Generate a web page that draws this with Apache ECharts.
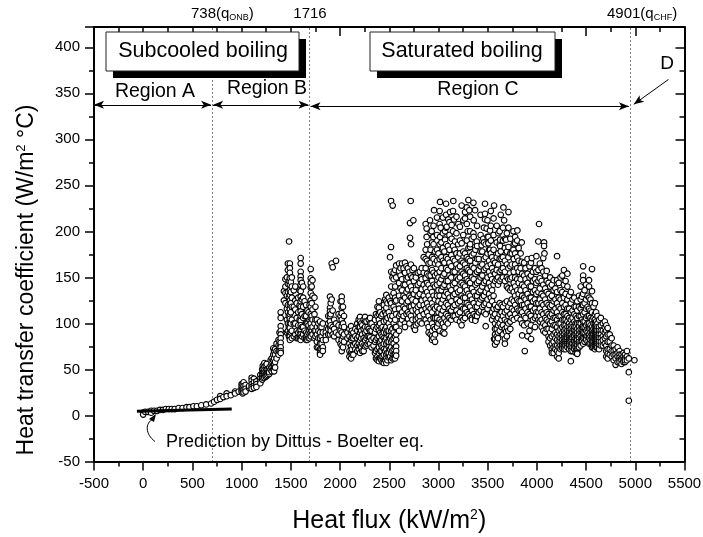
<!DOCTYPE html>
<html><head><meta charset="utf-8">
<script src="https://cdn.jsdelivr.net/npm/echarts@6/dist/echarts.min.js"></script>
<style>html,body{margin:0;padding:0;background:#fff}#c{width:703px;height:537px}</style>
</head><body><div id="c"></div>
<script>
// Each row: [heat flux, htc, htc, ...]
const subcooledLow = [[0,3,1],[20,4],[50,4],[80,5,3],[110,5],[140,5],[170,6],[200,6],[230,7],[260,7],[290,7],[320,7],[360,8],[400,8],[440,9],[470,9],[510,10],[545,10],[590,11],[640,12],[690,13],[720,15],[750,17],[782,21,18],[815,20],[848,24,21],[890,22],[933,26,24],[970,26]];
const subcooledRamp = [[1000,34,31,28,26],[1011,34,30,27,24],[1020,36,32,28,25],[1040,33,29,26],[1075,30,32],[1102,41,38,34,31,29],[1125,40,36,32,30],[1150,37,34,31],[1190,44,40,37,35],[1210,50,46,42,39],[1215,54,50,46,44,41],[1231,57,53,49,46,43,41],[1245,54,48,44,42],[1255,56,50,46,43],[1265,50,46,44],[1280,52,48,45,47],[1295,60,54,50],[1306,62,56,52,48],[1322,73,66,60,55,50],[1330,70,62,56,52,48],[1340,72,66,58,52],[1355,78,70,62],[1375,82,76,70,66],[1385,90,80,74,70],[1397,112,106,97,92,88,84,79,74,70,68]];
const boilingB = [[1430,135,125],[1445,148,140,133,122],[1460,150,130,116,104,90],[1470,165,158,143,134,120,112,100,92],[1480,146,128,108,96,86],[1482,189],[1490,165,160,155,149,142,136,131,125,120,115,110,105,100,95,90,86,82],[1500,145,134,122,112,100,90],[1510,150,140,128,118,104,92,84],[1530,136,118,100,86],[1545,140,125,115,100,88],[1560,122,106,92,84],[1575,128,112,98,90,84],[1590,136,120,104,92,84],[1600,171,165,156,151,147,142,135,129,124,118,113,108,103,98,93,88,84,82],[1612,144,126,110,96,86],[1625,140,128,118,106,96,88],[1640,124,108,92,84],[1655,120,108,100,90,84,82],[1668,114,100,88,82],[1680,112,98,90,84],[1690,120,104,92,84]];
const boilingMid = [[1702,159,149,144,139,133,125,118,110,106,100,95,90,86],[1712,140,122,108,92],[1720,147,130,115,104,96,88],[1740,128,110,100,92,84],[1750,118,104,92,86],[1765,104,96,88,80,74],[1780,100,92,84,74],[1797,102,96,90,84,78,72,68,66],[1812,96,86,78,72],[1825,100,90,82,74,70],[1855,90,86,82],[1880,108,100,94,88],[1898,129,117,113,108,102,96,88],[1905,122,110,98,92],[1915,165,126],[1925,161,114,96,88],[1940,104,94,86],[1959,168,100,90],[1985,110,98,88,82],[2005,124,108,92,78],[2017,129,124,117,111,104,97,90,82,76,70],[2030,118,100,86,74],[2040,108,96,88,80],[2075,90,84],[2095,94,86,78,70,64],[2112,97,90,82,75,68,62],[2120,92,84,72,66],[2135,90,84,76,66],[2155,94,86,78,72],[2175,100,92,84,76,70],[2190,104,96,86,78,72],[2203,107,102,96,90,82,75,68],[2215,100,92,84,74],[2225,98,88,78,70],[2240,104,94,84,76,70],[2254,107,102,96,90,82,75],[2268,102,92,84,76],[2280,96,86,78],[2292,104,94,86,80],[2305,106,100,92,85,78],[2320,100,92,82,74],[2340,96,84,76],[2355,104,90,80,68],[2365,110,94,82,70,62],[2380,118,108,96,84,72,64,60]];
const saturatedLeft = [[2395,124,117,110,104,98,92,86,80,74,68,62,59],[2408,112,100,90,80,70,62],[2420,108,95,88,82,76,70,64,60],[2432,110,96,86,74,64,58],[2445,120,102,90,84,78,72,66,60,57],[2458,126,112,94,82,70,60],[2470,131,124,117,110,103,96,90,84,78,72,66,62,57],[2482,122,106,92,80,68,60],[2495,128,112,100,92,86,80,74,68,63],[2508,172,124,108,96,84,72,64],[2518,233,183],[2520,156,140,122,104,92,86,80,74,68,60],[2532,150,130,108,94,82,70,62],[2535,228],[2545,155,148,133,118,100,90,84,78,72,66,62],[2558,124,96,86,74,66,62],[2560,158,140,128,115,104],[2570,163,150,125,110,96,88,82,75,70,65],[2600,165,157,144,130,116,108,92],[2615,160,152,138,125,110,100],[2630,165,148,136,124,112,104],[2645,160,142,130,118,108],[2660,166,155,142,128,116,100,96],[2675,162,148,134,122,110],[2690,160,150,137,124,112,105],[2705,156,144,130,118,110,100],[2711,209,193],[2718,233],[2721,186],[2720,164,152,140,128,118,108],[2735,158,150,136,126,114,104],[2745,212],[2750,160,146,132,120,96],[2762,93],[2770,150,136,124,115,104,98],[2790,155,142,130,118,112,106,100],[2810,156,144,132,120,108,102],[2830,160,148,137,125,114,100],[2850,172,155,142,130,120,110],[2870,208,180,170,160,149,138,126,116,104],[2880,203,194],[2885,186,168,154,144,134,122,112,100],[2900,175,165,152,142,130,118,108,96,90],[2914,212],[2920,198,180,166,152,138,126,116,104,88],[2931,200],[2935,188,172,158,146,134,122,112,100,92,86,82],[2948,194],[2950,206,186,170,155,142,130,118,106,96,84],[2955,223],[2965,178,165,152,140,126,116,106,94,88,80],[2985,215,196,180,168,154,142,130,118,106,96]];
const saturatedCentre = [[3000,176,164,150,136,124,112,100],[3012,222,208,186,170,156,144,130,116,104,92],[3016,232,194],[3023,204],[3030,188,172,160,148,136,122,110,102],[3045,215,198,182,168,152,140,126,114,100,90],[3060,178,166,154,142,130,118,106,96,89],[3067,200,191],[3077,230],[3078,218,204,186,172,160,146,134,122,110,102],[3084,205],[3095,184,170,158,146,132,120,108,100],[3100,213],[3112,210,196,180,166,152,140,128,116,106],[3118,221],[3130,174,162,150,136,124,114,104],[3134,207,192],[3148,222,200,184,170,156,142,130,118,108],[3151,233],[3158,213],[3165,180,168,156,144,132,120,108],[3168,189],[3183,216,198,176,164,150,138,126,114,104],[3200,186,172,160,148,134,122,110],[3202,208],[3218,205,190,176,162,150,136,124,112,102],[3235,168,156,144,130,118,106,98],[3236,228,187],[3252,212,196,178,166,154,142,128,116,104],[3270,221,214,176,164,152,140,128,116,106],[3288,226,208,190,172,160,148,136,122,112],[3297,200],[3304,234],[3305,182,170,158,146,132,120,110],[3314,223],[3321,183],[3322,216,200,186,168,156,144,130,118,108],[3338,192],[3340,174,162,150,138,126,114,106,104],[3355,231,198],[3358,212,194,176,160,148,134,122,110],[3372,223,183],[3375,180,166,154,142,130,118,108,104,103],[3389,189],[3392,206,184,170,156,144,130,118,108],[3410,170,158,146,134,122,112],[3428,218,196,178,162,150,136,126,114],[3439,185],[3445,178,164,152,140,128,118],[3456,192],[3462,204,188,170,158,144,130,120,112],[3473,230,219,213],[3480,186,172,160,146,134,122,110,97],[3490,203],[3498,212,194,176,162,150,138,126,116],[3507,194,187],[3515,180,168,156,144,132,120],[3524,201,180],[3532,222,206,190,176,164,152,140,128],[3545,172,160,148,136,124,112,104],[3560,214,196,180,168,156,142,130,116,108],[3565,228,83]];
const saturatedRight = [[3575,166,154,146,120,110,100,94,88,83,77],[3592,206,188,172,158,148,116,104,94,86,80],[3605,176,164,150,142,118,106,98,90,84],[3609,198],[3622,200,186,170,156,146,122,110,100,92],[3626,191,184],[3633,218,178],[3640,170,158,148,120,112,104,96],[3655,204,190,172,160,150,118,108,98,88],[3660,226],[3667,212],[3675,182,168,156,146,122,112,104,94,83,78],[3677,192],[3687,191,91],[3695,198,178,164,150,140,124,114,102,96,86],[3710,172,160,148,138,118,108,100,92],[3711,221,204,183],[3730,192,176,162,148,136,122,110,102,94],[3745,176,164,150,138,126,116,106],[3762,200,180],[3765,186,170,156,144,134,124,114,104],[3779,194,187,176,164,150,140,130,120,110],[3800,190,172,160,148,136,126,116,106],[3802,201],[3815,182,168,156,144,132,124,114],[3835,176,160,148,136,124,114,104],[3846,188,167],[3850,154,142,130,120,112,100,87],[3870,166,152,140,128,120,108,98],[3877,70],[3885,160,148,136,126,116,106],[3905,170,154,144,132,122,112,100,86],[3925,162,150,140,128,118,110,92],[3940,166,152,140,128,118,108,98],[3941,83],[3948,171],[3960,156,146,134,124,114,104],[3980,160,148,136,126,116,106,96],[3995,173,156,144,132,122,112,108],[4015,189,158,146,134,122,112,104],[4022,208],[4030,165,149,138,126,116,108,102],[4048,160,146,132,122,112,104,96],[4065,171,156,142,130,120,110,100,92],[4073,188,184],[4077,176],[4085,152,138,126,116,106,98,90],[4100,157,146,134,122,112,104,94],[4118,144,132,120,110,102,94,86,80]];
const saturatedTail = [[4135,150,140,128,118,108,100,90,84,76],[4152,142,130,120,110,102,94,86,78,72,68],[4170,147,136,124,114,106,98,88,80,74,68],[4188,138,126,116,106,98,90,84,76,72],[4205,173,147,134,122,112,104,96,88,82,76,70,64],[4222,144,128,118,108,100,92,86,80,74,68,62],[4240,150,136,126,116,108,100,94,88,84,80,76,72],[4258,152,134,122,112,104,96,90,86,82,78,76,73],[4275,158,142,128,118,110,104,98,92,88,84,80,78,76,74,72],[4292,146,132,120,110,104,98,94,90,86,84,82,80,78,76,72],[4310,154,140,126,116,108,102,96,92,88,86,84,80,78,76,74],[4328,130,116,106,100,96,92,90,86,84,82,80,78,76,72],[4345,134,122,112,104,98,94,90,88,84,82,80,76,74,70,59],[4362,126,114,106,100,96,92,90,86,84,80,78,74,70],[4380,128,118,110,102,96,92,88,86,82,80,76,74,72],[4395,118,108,100,96,92,88,84,80,78,74,70,68],[4410,124,114,106,100,94,90,86,84,82,78,76,72,70,68,67],[4428,130,118,108,100,96,92,88,84,80,76,74],[4445,140,126,116,108,100,94,90,86,80,76],[4458,129,120,112,104,96,90,84,80],[4470,162,152,147,132,120,110,102,96,90,84,78],[4485,136,122,112,102,96,90,84,80],[4500,142,126,116,106,98,92,86,82],[4515,130,118,108,100,94,90,86,80],[4530,147,140,128,116,108,100,94,88,84,78],[4545,126,114,106,98,94,90,86,82,78],[4560,159,135,122,112,104,96,92,88,84,80,76,74],[4575,118,106,100,94,90,88,84,82,80,76,74],[4590,122,110,104,100,96,92,90,88,86,84,82,80,78,76,74,72],[4602,112,102,98,94,92,88,86,84,82,80,78,74],[4615,108,100,96,92,88,86,84,82,80,78,76,74],[4632,104,96,92,88,84,80,76,72],[4650,106,98,92,88,84,80,76],[4670,100,92,86,82,76],[4690,102,96,90,84,78],[4705,98,92,86,76,70,64],[4720,95,88,80,72,67,62],[4740,88,80,72,66],[4760,84,76,70,64],[4780,76,70,66,60],[4800,72,66,62,55],[4820,74,68,64,58],[4840,70,66,63,60,58],[4860,66,62,60,56],[4880,68,64,60,58],[4895,66,62,58,60],[4915,70,64,60],[4934,62,47,16],[4991,60]];
const predictionX = [-64, 900];
const predictionY = [4.5, 7];
const dividers = [700, 1688, 4950];
const xMin = -500, xMax = 5500, yMin = -50, yMax = 422;

const rows = [subcooledLow, subcooledRamp, boilingB, boilingMid, saturatedLeft, saturatedCentre, saturatedRight, saturatedTail];
const points = [];
rows.forEach(group => group.forEach(row => row.slice(1).forEach(y => points.push([row[0], y]))));

const FONT = '"Liberation Sans", Arial, sans-serif';
const arrowStyle = {color:'#000', width:1, type:'solid'};
const nameRich = {
  a:{fontFamily:FONT,fontSize:25,color:'#000'},
  s:{fontFamily:FONT,fontSize:14,color:'#000',verticalAlign:'top',lineHeight:26,padding:[0,0,12,0]}
};
const yRich = {
  a:{fontFamily:FONT,fontSize:23,color:'#000'},
  s:{fontFamily:FONT,fontSize:13,color:'#000',verticalAlign:'top',lineHeight:24,padding:[0,0,11,0]}
};
const xBase = {type:'value',min:xMin,max:xMax,interval:500,splitLine:{show:false}};
const yBase = {type:'value',min:yMin,max:yMax,interval:50,splitLine:{show:false}};
const axisLine = {show:true,onZero:false,lineStyle:{color:'#000',width:2}};
const tickLine = {color:'#000',width:1.5};
const ticks = {show:true,length:9,lineStyle:tickLine};
const minor = {show:true,splitNumber:2,length:5,lineStyle:tickLine};
const labelBase = {color:'#000',fontFamily:FONT,fontSize:15,formatter:v=>String(v)};

function text(x,y,rich,str,size,align,rotation){
  return {type:'text',x,y,z:120,rotation:rotation||0,style:{text:str,fill:'#000',font:size+'px '+FONT,align:align||'center',verticalAlign:'middle',rich:rich}};
}
function box(x,y,w,h){
  return [
    {type:'rect',z:110,shape:{x:x+7,y:y+7,width:w,height:h},style:{fill:'#000'}},
    {type:'rect',z:111,shape:{x:x,y:y,width:w,height:h},style:{fill:'#fff',stroke:'#222',lineWidth:1}}
  ];
}
const subRich = {n:{fontFamily:FONT,fontSize:15,color:'#000'},u:{fontFamily:FONT,fontSize:9,color:'#000',verticalAlign:'bottom',padding:[7,0,0,0]}};

const chart = echarts.init(document.getElementById('c'),null,{renderer:'canvas'});
chart.setOption({
  animation:false,
  backgroundColor:'#fff',
  grid:{left:94,right:18.5,top:27,bottom:75.5,containLabel:false,outerBoundsMode:'none'},
  xAxis:[
    {...xBase,position:'bottom',axisLine,axisTick:ticks,minorTick:minor,axisLabel:{...labelBase,margin:15},
     name:'{a|Heat flux (kW/m}{s|2}{a|)}',nameLocation:'middle',nameGap:47,nameTextStyle:{rich:nameRich}},
    {...xBase,position:'top',axisLine,axisTick:{...ticks,inside:true},minorTick:minor,axisLabel:{show:false}}
  ],
  yAxis:[
    {...yBase,position:'left',axisLine,axisTick:ticks,minorTick:minor,axisLabel:{...labelBase,margin:14,showMaxLabel:false}},
    {...yBase,position:'right',axisLine,axisTick:{...ticks,inside:true},minorTick:minor,axisLabel:{show:false}}
  ],
  series:[
    {type:'scatter',data:points,symbol:'circle',symbolSize:5.6,z:3,silent:true,
     itemStyle:{color:'#fff',borderColor:'#000',borderWidth:1.1,opacity:1}},
    {type:'line',data:[[predictionX[0],predictionY[0]],[predictionX[1],predictionY[1]]],symbol:'none',z:4,silent:true,
     lineStyle:{color:'#000',width:3},
     markLine:{silent:true,animation:false,symbol:['none','none'],label:{show:false},z:2,
       data:[
         ...dividers.map(v=>({xAxis:v,lineStyle:{color:'#000',type:[1,3],width:1}})),
         [{coord:[xMin,337.5],symbol:'arrow',symbolSize:[6,10],lineStyle:arrowStyle},{coord:[690,337.5],symbol:'arrow',symbolSize:[6,10]}],
         [{coord:[710,337.5],symbol:'arrow',symbolSize:[6,10],lineStyle:arrowStyle},{coord:[1680,337.5],symbol:'arrow',symbolSize:[6,10]}],
         [{coord:[1700,336],symbol:'arrow',symbolSize:[6,10],lineStyle:arrowStyle},{coord:[4935,336],symbol:'arrow',symbolSize:[6,10]}],
         [{coord:[5337,365],symbol:'none',lineStyle:arrowStyle},{coord:[4985,338],symbol:'arrow',symbolSize:[6,10]}]
       ]}}
  ],
  graphic:[
    {type:'rect',z:125,shape:{x:85,y:33,width:7.5,height:8},style:{fill:'#fff'}},
    {type:'rect',z:125,shape:{x:676,y:33,width:7,height:8},style:{fill:'#fff'}},
    ...box(106,32,193,39),
    ...box(370,32,185,39),
    text(203,51,null,'Subcooled boiling',21.5),
    text(462,51,null,'Saturated boiling',21.5),
    text(155,92,null,'Region A',19.5),
    text(267,89,null,'Region B',19.5),
    text(478,90,null,'Region C',19.5),
    text(667,64,null,'D',19),
    text(191,14,subRich,'{n|738(q}{u|ONB}{n|)}',15,'left'),
    text(310,14,null,'1716',15),
    text(607,14,subRich,'{n|4901(q}{u|CHF}{n|)}',15,'left'),
    text(166,442,null,'Prediction by Dittus - Boelter eq.',18,'left'),
    text(27,280,yRich,'{a|Heat transfer coefficient (W/m}{s|2}{a| °C)}',23,'center',Math.PI/2),
    {type:'bezierCurve',z:120,shape:{x1:155,y1:441.5,x2:153,y2:419,cpx1:145,cpy1:434,cpx2:145,cpy2:423},style:{stroke:'#000',fill:'none',lineWidth:1}},
    {type:'polygon',z:120,shape:{points:[[156,414],[149,419],[154,422]]},style:{fill:'#000'}}
  ]
});
</script></body></html>
